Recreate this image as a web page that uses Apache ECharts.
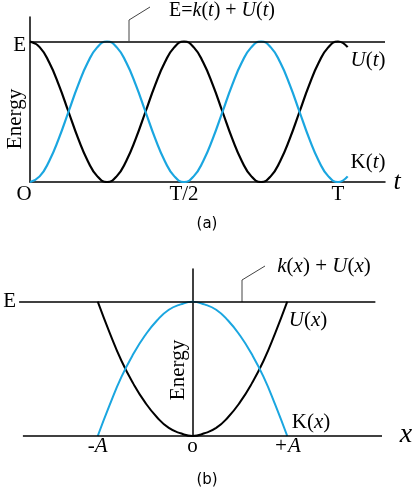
<!DOCTYPE html>
<html><head><meta charset="utf-8">
<script src="https://cdn.jsdelivr.net/npm/echarts@6/dist/echarts.min.js"></script>
<style>html,body{margin:0;padding:0;background:#fff}#c{width:415px;height:490px}</style>
</head><body><div id="c"></div>
<script>
// Panel (a): time in units of T/32
const tSteps = [0,1,2,3,4,5,6,7,8,9,10,11,12,13,14,15,16,17,18,19,20,21,22,23,24,25,26,27,28,29,30,31,32,33];
const uTime = [1,0.96,0.85,0.69,0.5,0.31,0.15,0.04,0,0.04,0.15,0.31,0.5,0.69,0.85,0.96,1,0.96,0.85,0.69,0.5,0.31,0.15,0.04,0,0.04,0.15,0.31,0.5,0.69,0.85,0.96,1,0.96];
const kTime = [0,0.04,0.15,0.31,0.5,0.69,0.85,0.96,1,0.96,0.85,0.69,0.5,0.31,0.15,0.04,0,0.04,0.15,0.31,0.5,0.69,0.85,0.96,1,0.96,0.85,0.69,0.5,0.31,0.15,0.04,0,0.04];
const timeTicks = [0,16,32];
const timeTickLabels = ['O','T/2','T'];

// Panel (b): position in units of A
const xPos = [-1,-0.875,-0.75,-0.625,-0.5,-0.375,-0.25,-0.125,0,0.125,0.25,0.375,0.5,0.625,0.75,0.875,1];
const uPos = [1,0.77,0.56,0.39,0.25,0.14,0.06,0.02,0,0.02,0.06,0.14,0.25,0.39,0.56,0.77,1];
const kPos = [0,0.23,0.44,0.61,0.75,0.86,0.94,0.98,1,0.98,0.94,0.86,0.75,0.61,0.44,0.23,0];
const posTicks = [-1,0,1];
const posTickLabels = ['-A','o','+A'];

const BLUE = '#1aa6e0';
const SERIF = 'Liberation Serif';

const chart = echarts.init(document.getElementById('c'));

function txt(x, y, text, size, extra) {
  return {
    type: 'text', x: x, y: y, silent: true,
    style: Object.assign({ text: text, fontFamily: SERIF, fontSize: size, fill: '#000', align: 'center', verticalAlign: 'middle' }, extra || {})
  };
}
function rich(size) {
  return {
    i: { fontStyle: 'italic', fontFamily: SERIF, fontSize: size },
    n: { fontFamily: SERIF, fontSize: size }
  };
}

chart.setOption({
  animation: false,
  backgroundColor: '#fff',
  grid: [
    { left: 30, top: 17, width: 355, height: 165 },
    { left: 2, top: 269, width: 380, height: 167 }
  ],
  xAxis: [
    {
      gridIndex: 0, type: 'value', min: 0, max: 36.88, interval: 16,
      axisLine: { show: true, onZero: false, lineStyle: { color: '#000', width: 1.5 } },
      axisTick: { show: false }, splitLine: { show: false },
      axisLabel: {
        margin: 2, color: '#000', fontFamily: SERIF, fontSize: 21,
        formatter: v => { const i = timeTicks.indexOf(v); return i < 0 ? '' : (i === 0 ? '{o|O}' : timeTickLabels[i]); },
        rich: { o: { fontFamily: SERIF, fontSize: 21, padding: [0, 12, 0, 0] } }
      }
    },
    {
      gridIndex: 1, type: 'value', min: -2, max: 2, interval: 1,
      axisLine: { show: false }, axisTick: { show: false }, splitLine: { show: false },
      axisLabel: {
        margin: 0, color: '#000', fontFamily: SERIF, fontSize: 21,
        formatter: v => { const i = posTicks.indexOf(v); return i < 0 ? '' : (i === 1 ? '{n|o}' : '{i|' + posTickLabels[i] + '}'); },
        rich: rich(21)
      }
    }
  ],
  yAxis: [
    {
      gridIndex: 0, type: 'value', min: 0, max: 1.1744, interval: 1,
      axisLine: { show: true, onZero: false, lineStyle: { color: '#000', width: 1.5 } },
      axisTick: { show: false }, splitLine: { show: false },
      axisLabel: {
        margin: 4, color: '#000', fontFamily: SERIF, fontSize: 21,
        formatter: v => v === 1 ? '{e|E}' : '',
        rich: { e: { fontFamily: SERIF, fontSize: 21, padding: [8, 0, 0, 0] } }
      }
    },
    {
      gridIndex: 1, type: 'value', min: 0, max: 1.2435, interval: 1,
      axisLine: { show: true, onZero: true, lineStyle: { color: '#000', width: 1.5 } },
      axisTick: { show: false }, splitLine: { show: false },
      axisLabel: { show: false }
    }
  ],
  series: [
    {
      name: 'U(t)', type: 'line', xAxisIndex: 0, yAxisIndex: 0, smooth: true, showSymbol: false,
      data: tSteps.map((t, i) => [t, uTime[i]]),
      lineStyle: { color: '#000', width: 2.2 }, silent: true,
      markLine: {
        silent: true, symbol: 'none', label: { show: false },
        lineStyle: { color: '#000', width: 1.5, type: 'solid' },
        data: [{ yAxis: 1 }]
      }
    },
    {
      name: 'K(t)', type: 'line', xAxisIndex: 0, yAxisIndex: 0, smooth: true, showSymbol: false,
      data: tSteps.map((t, i) => [t, kTime[i]]),
      lineStyle: { color: BLUE, width: 2.2 }, silent: true
    },
    {
      name: 'U(x)', type: 'line', xAxisIndex: 1, yAxisIndex: 1, smooth: true, showSymbol: false,
      data: xPos.map((x, i) => [x, uPos[i]]),
      lineStyle: { color: '#000', width: 2 }, silent: true,
      markLine: {
        silent: true, symbol: 'none', label: { show: false },
        lineStyle: { color: '#000', width: 1.5, type: 'solid' },
        data: [
          [{ coord: [-1.83, 1], label: { show: true, position: 'start', formatter: 'E', color: '#000', fontFamily: SERIF, fontSize: 21, distance: 3 } }, { coord: [1.93, 1] }],
          [{ coord: [-1.79, 0] }, { coord: [2, 0] }]
        ]
      }
    },
    {
      name: 'K(x)', type: 'line', xAxisIndex: 1, yAxisIndex: 1, smooth: true, showSymbol: false,
      data: xPos.map((x, i) => [x, kPos[i]]),
      lineStyle: { color: BLUE, width: 2 }, silent: true
    }
  ],
  graphic: [
    { type: 'polyline', silent: true, shape: { points: [[129, 41], [129, 20], [150, 7]] }, style: { stroke: '#444', lineWidth: 1, fill: null } },
    { type: 'polyline', silent: true, shape: { points: [[242, 302], [242, 280], [265, 266]] }, style: { stroke: '#444', lineWidth: 1, fill: null } },
    txt(222, 11, '{n|E=}{i|k}{n|(}{i|t}{n|) + }{i|U}{n|(}{i|t}{n|)}', 20, { rich: rich(20) }),
    txt(368, 60, '{i|U}{n|(}{i|t}{n|)}', 21, { rich: rich(21) }),
    txt(368, 162, '{n|K(}{i|t}{n|)}', 21, { rich: rich(21) }),
    txt(397, 182, 't', 26, { fontStyle: 'italic' }),
    txt(207, 224, '(a)', 15, { fontFamily: 'DejaVu Sans' }),
    txt(324, 266, '{i|k}{n|(}{i|x}{n|) + }{i|U}{n|(}{i|x}{n|)}', 21, { rich: rich(21) }),
    txt(308, 320, '{i|U}{n|(}{i|x}{n|)}', 21, { rich: rich(21) }),
    txt(311, 422, '{n|K(}{i|x}{n|)}', 21, { rich: rich(21) }),
    txt(406, 435, 'x', 28, { fontStyle: 'italic' }),
    txt(207, 480, '(b)', 15, { fontFamily: 'DejaVu Sans' }),
    Object.assign(txt(15, 119, 'Energy', 21), { rotation: Math.PI / 2 }),
    Object.assign(txt(178, 370, 'Energy', 21), { rotation: Math.PI / 2 })
  ]
});
</script>
</body></html>
